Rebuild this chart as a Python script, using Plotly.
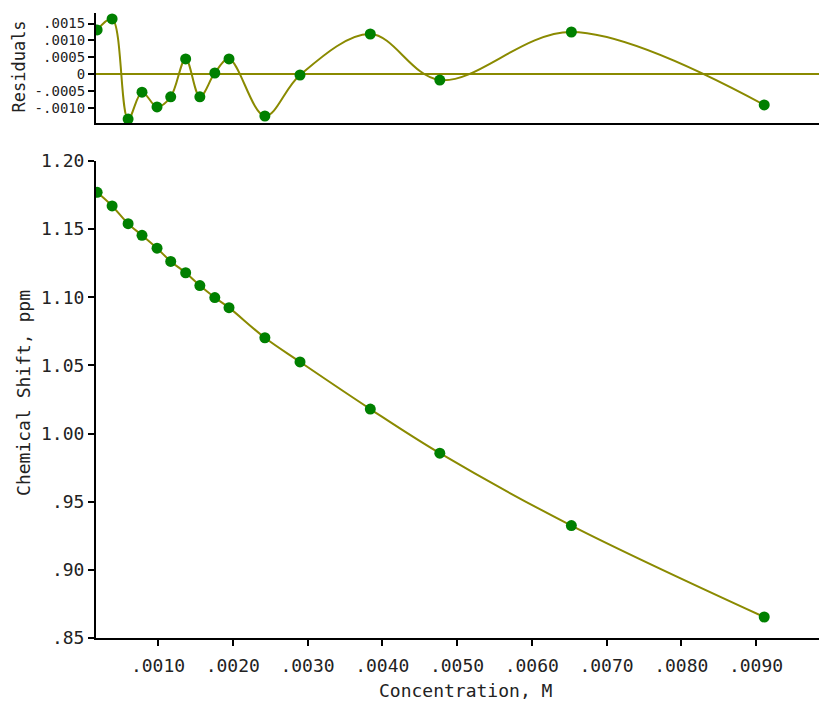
import plotly.graph_objects as go

concentration = [0.000186, 0.000386, 0.000600, 0.000786, 0.000987, 0.00117, 0.00137, 0.00156,
                 0.00176, 0.00195, 0.00243, 0.00290, 0.00384, 0.00477, 0.00653, 0.00911]
chem_shift = [1.177, 1.167, 1.154, 1.1455, 1.136, 1.1263, 1.118, 1.1086,
              1.0998, 1.0924, 1.0703, 1.0526, 1.018, 0.9856, 0.9325, 0.8654]
residuals = [0.00131, 0.00164, -0.00134, -0.00054, -0.00098, -0.00068, 0.00045, -0.00068,
             0.00003, 0.00045, -0.00125, -0.00003, 0.00119, -0.00018, 0.00125, -0.00092]

x_tickvals = [0.001, 0.002, 0.003, 0.004, 0.005, 0.006, 0.007, 0.008, 0.009]
x_ticktext = [".0010", ".0020", ".0030", ".0040", ".0050", ".0060", ".0070", ".0080", ".0090"]
y_tickvals = [0.85, 0.90, 0.95, 1.00, 1.05, 1.10, 1.15, 1.20]
y_ticktext = [".85", ".90", ".95", "1.00", "1.05", "1.10", "1.15", "1.20"]
r_tickvals = [-0.0010, -0.0005, 0.0, 0.0005, 0.0010, 0.0015]
r_ticktext = ["-.0010", "-.0005", "0", ".0005", ".0010", ".0015"]

OLIVE = "#8a8a00"
GREEN = "#008000"
FONT = "DejaVu Sans Mono"
TXT = "#222"

fig = go.Figure()
fig.add_trace(go.Scatter(x=concentration, y=residuals, mode="lines+markers",
                         line=dict(color=OLIVE, width=2, shape="spline", smoothing=1),
                         marker=dict(color=GREEN, size=11),
                         xaxis="x2", yaxis="y2", showlegend=False))
fig.add_trace(go.Scatter(x=concentration, y=chem_shift, mode="lines+markers",
                         line=dict(color=OLIVE, width=2, shape="spline", smoothing=1),
                         marker=dict(color=GREEN, size=11),
                         xaxis="x", yaxis="y", showlegend=False))

xr = [0.0001706, 0.0099498]
axis_common = dict(showline=True, linecolor="black", linewidth=2, ticks="outside",
                   ticklen=6, tickwidth=2, tickcolor="black", showgrid=False, zeroline=False,
                   automargin=False, tickfont=dict(family=FONT, size=18, color=TXT))

# page body has an 8px margin, so the figure is sized/offset to compensate
fig.update_layout(
    width=819, height=696,
    margin=dict(l=88, r=0, t=5, b=66),
    paper_bgcolor="white", plot_bgcolor="white",
    font=dict(family=FONT, size=18, color=TXT),
    xaxis=dict(domain=[0, 1], range=xr, anchor="y", tickvals=x_tickvals, ticktext=x_ticktext,
               ticklabelstandoff=4, **axis_common),
    yaxis=dict(domain=[0, 0.7632], range=[0.85, 1.20], anchor="x", tickvals=y_tickvals,
               ticktext=y_ticktext, **axis_common),
    xaxis2=dict(domain=[0, 1], range=xr, anchor="y2", showticklabels=False, showline=True,
                linecolor="black", linewidth=2, ticks="", showgrid=False, zeroline=False,
                automargin=False),
    yaxis2=dict(domain=[0.824, 1.0], range=[-0.001458, 0.001815], anchor="x2",
                tickvals=r_tickvals, ticktext=r_ticktext, showline=True, linecolor="black",
                linewidth=2, ticks="outside", ticklen=6, tickwidth=2, tickcolor="black",
                showgrid=False, zeroline=True, zerolinecolor=OLIVE, zerolinewidth=2,
                automargin=False, tickfont=dict(family=FONT, size=14, color=TXT)),
)

fig.add_annotation(text="Residuals", xref="paper", yref="paper", x=-0.106, y=0.9136,
                   xanchor="center", yanchor="middle", textangle=-90, showarrow=False,
                   font=dict(family=FONT, size=17, color=TXT))
fig.add_annotation(text="Chemical Shift, ppm", xref="paper", yref="paper", x=-0.1, y=0.392,
                   xanchor="center", yanchor="middle", textangle=-90, showarrow=False,
                   font=dict(family=FONT, size=18, color=TXT))
fig.add_annotation(text="Concentration, M", xref="paper", yref="paper", x=0.506, y=-0.0832,
                   xanchor="center", yanchor="middle", showarrow=False,
                   font=dict(family=FONT, size=18, color=TXT))

fig.write_html("out.html")
